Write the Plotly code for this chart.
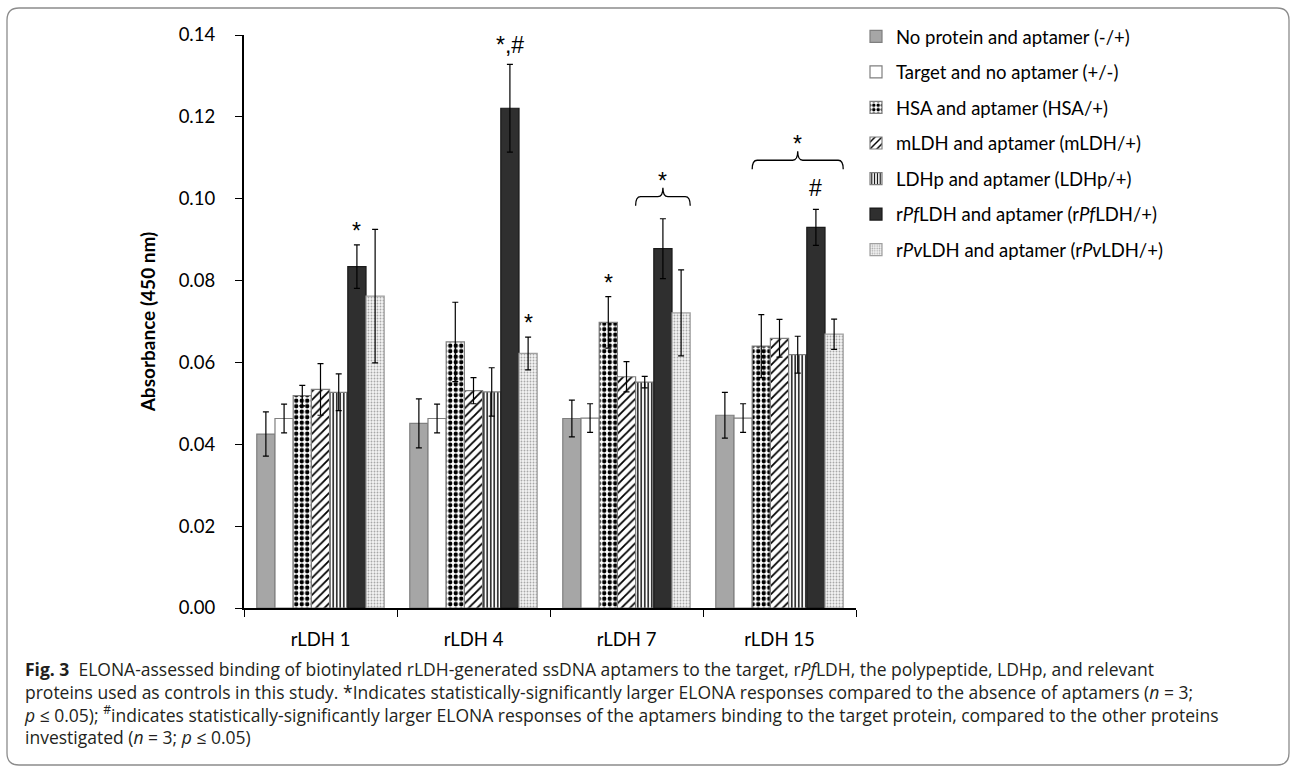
import plotly.graph_objects as go

# ---------------- data ----------------
groups = ["rLDH 1", "rLDH 4", "rLDH 7", "rLDH 15"]

series_names = [
    "No protein and aptamer (-/+)",
    "Target and no aptamer (+/-)",
    "HSA and aptamer (HSA/+)",
    "mLDH and aptamer (mLDH/+)",
    "LDHp and aptamer (LDHp/+)",
    "r<i>Pf</i>LDH and aptamer (r<i>Pf</i>LDH/+)",
    "r<i>Pv</i>LDH and aptamer (r<i>Pv</i>LDH/+)",
]

no_protein = [0.0425, 0.0451, 0.0463, 0.0471]
no_protein_err = [0.0054, 0.0060, 0.0045, 0.0056]
target = [0.0463, 0.0463, 0.0464, 0.0464]
target_err = [0.0035, 0.0035, 0.0035, 0.0035]
hsa = [0.0519, 0.0650, 0.0698, 0.0640]
hsa_err = [0.0025, 0.0097, 0.0063, 0.0077]
mldh = [0.0534, 0.0531, 0.0565, 0.0659]
mldh_err = [0.0063, 0.0032, 0.0037, 0.0046]
ldhp = [0.0527, 0.0528, 0.0552, 0.0619]
ldhp_err = [0.0045, 0.0059, 0.0014, 0.0045]
rpf = [0.0834, 0.1221, 0.0878, 0.0930]
rpf_err = [0.0053, 0.0107, 0.0073, 0.0044]
rpv = [0.0762, 0.0622, 0.0721, 0.0669]
rpv_err = [0.0163, 0.0040, 0.0105, 0.0037]

values = [no_protein, target, hsa, mldh, ldhp, rpf, rpv]
errors = [no_protein_err, target_err, hsa_err, mldh_err, ldhp_err, rpf_err, rpv_err]

# significance marks: (group index, series index, text)
marks = [(0, 5, "*"), (1, 5, "*,#"), (1, 6, "*"), (2, 2, "*"), (3, 5, "#")]
# braces: (group index, first series, last series, text)
braces = [(2, 4, 6, "*"), (3, 2, 6, "*")]

# ---------------- styling ----------------
FONT = "Lato"
MARKFONT = "Liberation Sans"
styles = [
    dict(color="#a6a6a6", line=dict(color="#7f7f7f", width=1.2)),
    dict(color="#ffffff", line=dict(color="#7f7f7f", width=1.2)),
    dict(color="#ffffff", line=dict(color="#7f7f7f", width=1.2),
         pattern=dict(shape=".", fgcolor="#000000", bgcolor="#ffffff", size=5.5, solidity=0.5, fillmode="replace")),
    dict(color="#ffffff", line=dict(color="#7f7f7f", width=1.2),
         pattern=dict(shape="/", fgcolor="#000000", bgcolor="#ffffff", size=6, solidity=0.3, fillmode="replace")),
    dict(color="#ffffff", line=dict(color="#7f7f7f", width=1.2),
         pattern=dict(shape="|", fgcolor="#000000", bgcolor="#ffffff", size=3.5, solidity=0.4, fillmode="replace")),
    dict(color="#2f2f2f", line=dict(color="#1a1a1a", width=1.2)),
    dict(color="#f2f2f2", line=dict(color="#a0a0a0", width=1.2),
         pattern=dict(shape=".", fgcolor="#a8a8a8", bgcolor="#f4f4f4", size=3, solidity=0.3, fillmode="replace")),
]

BARGAP = 0.167
NS = len(values)
xs = list(range(len(groups)))

fig = go.Figure()
for i, (name, vals, errs) in enumerate(zip(series_names, values, errors)):
    fig.add_trace(go.Bar(
        x=xs, y=vals, name=name, legendgroup=str(i),
        marker=styles[i],
        error_y=dict(type="data", array=errs, visible=True, color="#000000",
                     thickness=1.2, width=3),
    ))

bw = (1 - BARGAP) / NS


def bar_left(g, i):
    return g - (1 - BARGAP) / 2 + i * bw


annotations = []
for g, i, txt in marks:
    top = values[i][g] + errors[i][g]
    annotations.append(dict(
        x=bar_left(g, i) + bw / 2, y=top, xref="x", yref="y", text=txt,
        showarrow=False, yanchor="middle",
        yshift=(14 if txt == "*" else 19 if txt == "*,#" else 21),
        font=dict(family=MARKFONT, size=23, color="#000000"),
    ))

brace_levels = {2: 0.1005, 3: 0.1094}
PXY = 0.14 / 573.0   # data units per pixel in y
PXX = 1.0 / 153.0    # data units per pixel in x
shapes = []
for g, i0, i1, txt in braces:
    x0 = bar_left(g, i0)
    x1 = bar_left(g, i1 + 1)
    xm = (x0 + x1) / 2
    y = brace_levels[g]
    he = 9 * PXY
    ht = 9 * PXY
    dx = 5 * PXX
    path = (f"M {x0},{y - he} Q {x0},{y} {x0 + dx},{y} L {xm - dx},{y} "
            f"Q {xm},{y} {xm},{y + ht} Q {xm},{y} {xm + dx},{y} "
            f"L {x1 - dx},{y} Q {x1},{y} {x1},{y - he}")
    shapes.append(dict(type="path", path=path, xref="x", yref="y",
                       line=dict(color="#000000", width=1.3)))
    annotations.append(dict(
        x=xm, y=y + ht, xref="x", yref="y", text=txt, showarrow=False,
        yanchor="middle", yshift=7, font=dict(family=MARKFONT, size=23, color="#000000"),
    ))

# figure frame (rounded border) in paper coords
L, R, T, B = 244, 856, 35, 608
W, H = 1292, 772
pw, ph = R - L, B - T


def px(xp):
    return (xp - L) / pw


def py(yp):
    return (B - yp) / ph


bx0, bx1, by0, by1 = px(7), px(1289), py(8), py(765)
rx, ry = 12 / pw, 12 / ph
frame = (f"M {bx0 + rx},{by0} L {bx1 - rx},{by0} Q {bx1},{by0} {bx1},{by0 - ry} "
         f"L {bx1},{by1 + ry} Q {bx1},{by1} {bx1 - rx},{by1} "
         f"L {bx0 + rx},{by1} Q {bx0},{by1} {bx0},{by1 + ry} "
         f"L {bx0},{by0 - ry} Q {bx0},{by0} {bx0 + rx},{by0} Z")
shapes.append(dict(type="path", path=frame, xref="paper", yref="paper",
                   line=dict(color="#8c8c8c", width=1.3), layer="below"))

caption = (
    "<b>Fig. 3</b>  ELONA-assessed binding of biotinylated rLDH-generated ssDNA aptamers to the target, "
    "r<i>Pf</i>LDH, the polypeptide, LDHp, and relevant<br>"
    "proteins used as controls in this study. *Indicates statistically-significantly larger ELONA "
    "responses compared to the absence of aptamers (<i>n</i> = 3;<br>"
    "<i>p</i> ≤ 0.05); <sup>#</sup>indicates statistically-significantly larger ELONA responses of the "
    "aptamers binding to the target protein, compared to the other proteins<br>"
    "investigated (<i>n</i> = 3; <i>p</i> ≤ 0.05)"
)
annotations.append(dict(
    x=px(22), y=py(655), xref="paper", yref="paper", xanchor="left", yanchor="top",
    align="left", showarrow=False, text=caption,
    font=dict(family="Open Sans", size=17.5, color="#231f20"),
))

fig.update_layout(
    width=W, height=H,
    margin=dict(l=L, r=W - R, t=T, b=H - B),
    paper_bgcolor="white", plot_bgcolor="white",
    barmode="group", bargap=BARGAP, bargroupgap=0,
    font=dict(family=FONT, size=18, color="#000000"),
    showlegend=True,
    legend=dict(x=1.0, xanchor="left", y=1.03, yanchor="top",
                font=dict(family=FONT, size=18.5, color="#000000"),
                traceorder="grouped", tracegroupgap=8.5, bgcolor="rgba(0,0,0,0)"),
    xaxis=dict(
        range=[-0.5, 3.5], tickmode="array", tickvals=xs, ticktext=groups,
        ticks="", showline=True, linecolor="#000000", linewidth=2.2,
        showgrid=False, zeroline=False, ticklabelstandoff=14,
        tickfont=dict(family=FONT, size=18.5),
        minor=dict(tickmode="linear", tick0=-0.5, dtick=1, ticks="outside",
                   ticklen=7, tickwidth=1.3, tickcolor="#000000", showgrid=False),
    ),
    yaxis=dict(
        range=[0, 0.14], dtick=0.02, tickformat=".2f",
        ticks="outside", ticklen=7, tickwidth=1.3, tickcolor="#000000",
        showline=True, linecolor="#000000", linewidth=2.2,
        showgrid=False, zeroline=False, ticklabelstandoff=16,
        tickfont=dict(family=FONT, size=18.5),
        title=dict(text="<b>Absorbance (450 nm)</b>", standoff=18,
                   font=dict(family=FONT, size=19)),
    ),
    shapes=shapes,
    annotations=annotations,
)

fig.write_html("out.html")
